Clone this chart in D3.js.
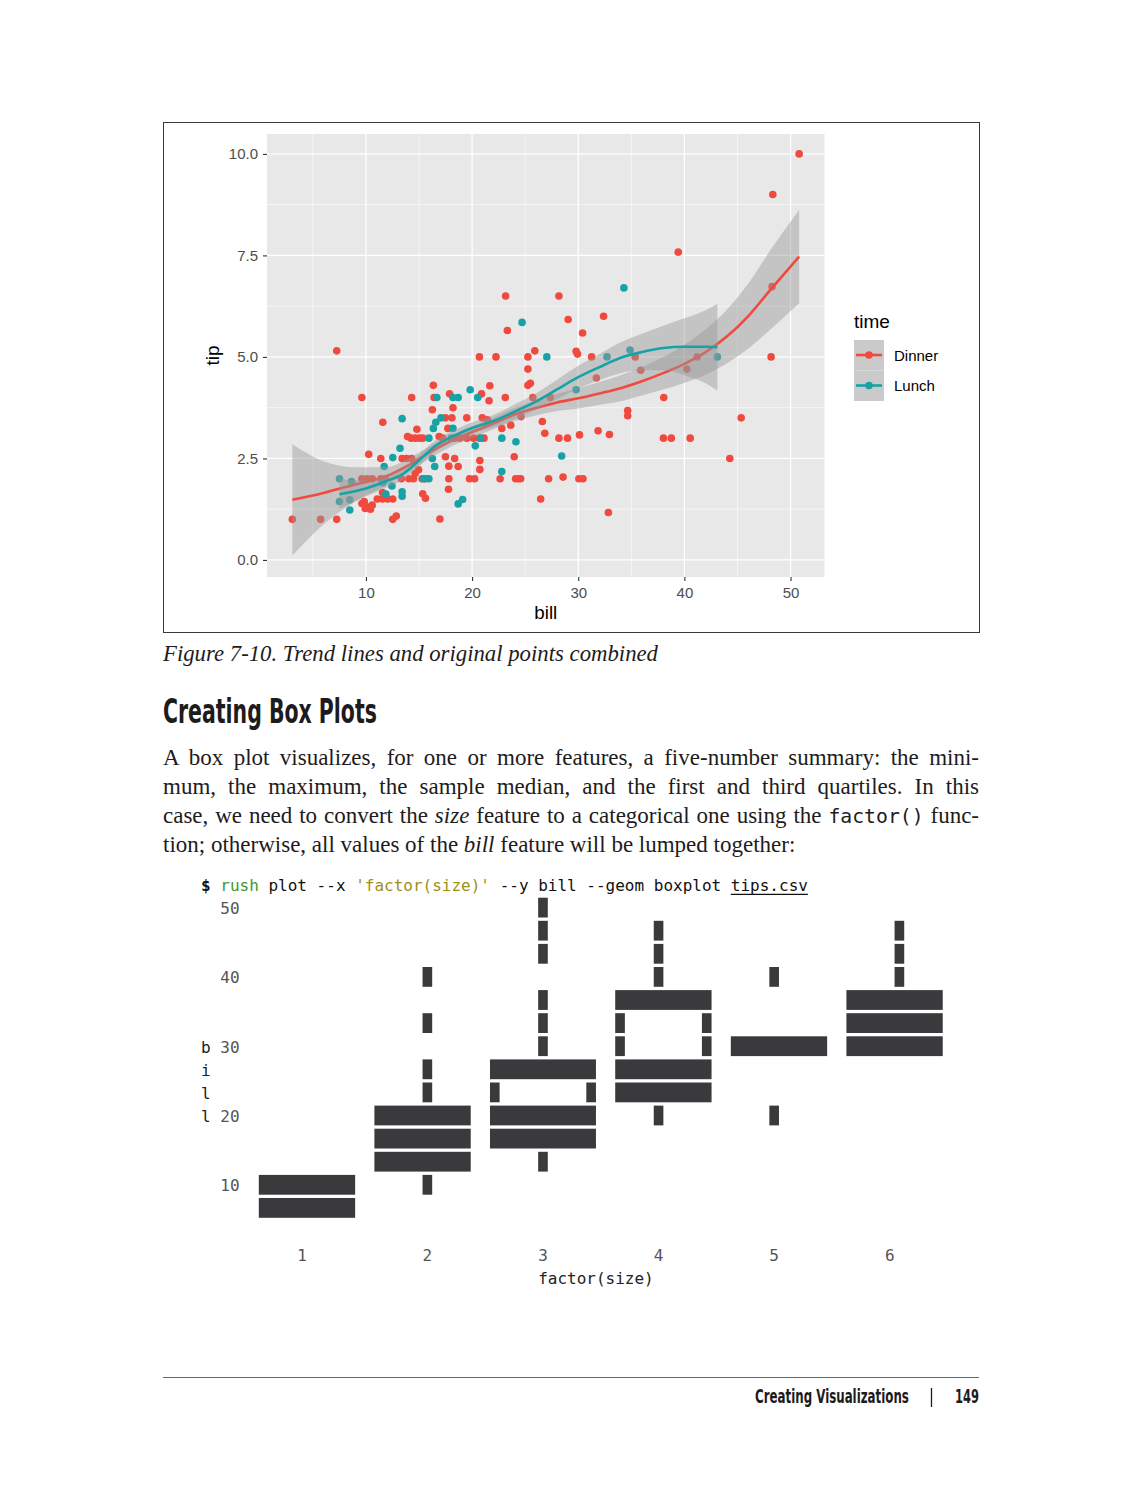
<!DOCTYPE html>
<html><head><meta charset="utf-8">
<script src="https://cdn.jsdelivr.net/npm/d3@7"></script>
<style>
body{margin:0;background:#fff;}
#page{position:relative;width:1142px;height:1500px;overflow:hidden;background:#fff;}
#page svg{position:absolute;left:0;top:0;}
#para{position:absolute;left:163px;top:743px;width:816px;font-family:"Liberation Serif","Times New Roman",serif;font-size:21px;line-height:29px;color:#1e1b1c;}
#para .ln{display:block;text-align:left;}
#para.just .ln.j{text-align:justify;text-align-last:justify;}
#para code{font-family:"DejaVu Sans Mono",monospace;font-size:0.86em;line-height:1;}
</style>
</head><body>
<div id="page">
<div id="para">
<div class="ln j"><span>A box plot visualizes, for one or more features, a five-number summary: the mini-</span></div>
<div class="ln j"><span>mum, the maximum, the sample median, and the first and third quartiles. In this</span></div>
<div class="ln j"><span>case, we need to convert the <i>size</i> feature to a categorical one using the <code>factor()</code> func-</span></div>
<div class="ln"><span id="lastspan">tion; otherwise, all values of the <i>bill</i> feature will be lumped together:</span></div>
</div>
</div>
<script>
// ---------------- DATA ----------------
// Scatter: [bill, tip]
const dinnerPoints = [
[50.81,10.0],[48.33,9.0],[39.42,7.58],[23.16,6.5],[28.18,6.5],[29.05,5.92],[32.39,6.0],[23.32,5.65],[30.41,5.59],[7.25,5.15],
[20.69,5.0],[22.25,5.0],[25.26,5.0],[25.91,5.15],[25.26,4.7],[29.8,5.14],[29.93,5.07],[31.26,5.0],[35.37,5.0],[35.89,4.67],
[31.71,4.48],[40.23,4.7],[41.2,5.0],[48.17,5.0],[48.26,6.73],[38.06,4.0],[45.35,3.5],[44.28,2.5],[34.66,3.68],[34.66,3.55],
[38.03,3.0],[38.77,3.0],[40.55,3.0],[32.84,1.17],[31.87,3.18],[32.94,3.09],[30.12,3.08],[28.18,3.0],[28.99,3.0],[26.85,3.12],
[26.62,3.41],[27.21,2.0],[28.57,2.04],[30.06,2.0],[30.45,2.0],[26.46,1.5],[25.72,4.0],[27.37,4.0],[25.26,4.3],[25.49,4.35],
[24.61,3.53],[23.13,4.0],[21.6,3.92],[21.67,4.29],[20.89,4.09],[22.8,3.24],[23.64,3.32],[23.97,2.54],[22.64,2.0],[24.1,2.0],
[24.36,2.0],[24.58,2.0],[19.76,2.0],[20.24,2.0],[19.5,3.5],[20.96,3.5],[21.44,3.45],[20.7,3.0],[21.12,3.0],[17.88,4.09],
[16.35,4.3],[16.42,4.0],[16.26,3.7],[18.2,3.75],[14.31,4.0],[9.62,4.0],[11.59,3.39],[17.49,3.5],[18.1,3.5],[17.72,3.24],
[14.8,3.22],[13.92,3.04],[14.25,3.0],[14.64,3.0],[15.03,3.0],[15.35,3.0],[16.9,3.04],[17.23,3.0],[18.36,3.0],[18.85,3.0],
[19.5,3.0],[20.14,3.0],[10.26,2.6],[11.4,2.5],[13.41,2.5],[13.83,2.5],[14.31,2.5],[17.49,2.54],[18.36,2.5],[18.69,2.3],
[17.81,2.31],[20.73,2.45],[20.73,2.23],[14.64,2.13],[14.96,2.22],[15.29,2.0],[15.61,2.0],[17.81,2.0],[17.78,1.74],[13.34,2.0],
[14.05,2.0],[14.48,2.0],[9.62,2.0],[10.1,2.0],[10.59,2.0],[11.4,2.0],[11.82,2.0],[15.35,1.63],[15.61,1.52],[9.62,1.39],
[10.1,1.31],[10.43,1.25],[9.94,1.27],[10.59,1.35],[11.07,1.5],[11.56,1.5],[12.05,1.5],[12.53,1.5],[11.56,1.66],[9.84,1.44],
[3.07,1.0],[5.73,1.0],[7.25,1.0],[12.53,1.0],[12.86,1.08],[16.97,1.01]
];
const lunchPoints = [
[34.3,6.7],[24.71,5.85],[27.04,5.0],[32.71,5.0],[34.88,5.17],[43.11,5.0],[29.8,4.19],[28.44,2.56],[24.13,2.91],[22.8,3.0],
[22.8,2.18],[20.3,2.81],[19.82,4.19],[20.53,4.0],[18.2,4.0],[18.69,4.0],[16.68,4.0],[13.41,3.48],[16.58,3.39],[17.07,3.5],
[18.2,3.24],[16.35,3.24],[15.93,3.0],[18.04,3.0],[20.8,3.0],[13.21,2.75],[12.53,2.52],[11.72,2.3],[16.26,2.5],[16.48,2.3],
[15.45,2.0],[15.93,2.0],[7.51,2.0],[8.64,1.93],[12.45,1.82],[11.6,1.9],[11.88,1.62],[13.41,1.68],[13.41,1.57],[18.69,1.38],
[19.11,1.49],[7.51,1.44],[8.48,1.48],[8.48,1.23]
];
// Smooth fits: [bill, fit, halfWidthOfBand]
const dinnerFit = [
[3.07,1.48,1.37],[6,1.65,0.78],[9,1.86,0.42],[12,2.07,0.22],[14,2.33,0.17],[16,2.65,0.15],[18,2.93,0.14],[20,3.15,0.14],
[22,3.36,0.14],[24,3.58,0.16],[26,3.74,0.18],[28,3.88,0.21],[30,3.98,0.25],[32,4.1,0.28],[34,4.23,0.32],[36,4.4,0.35],
[38,4.6,0.4],[40,4.83,0.47],[42,5.12,0.56],[44,5.5,0.66],[46,6.0,0.8],[48,6.62,0.97],[50.81,7.47,1.15]
];
const lunchFit = [
[7.51,1.62,0.36],[10,1.76,0.2],[12,1.95,0.16],[13.5,2.12,0.15],[15,2.45,0.14],[16.5,2.8,0.14],[18.5,3.08,0.14],[20,3.25,0.14],
[22,3.42,0.15],[24,3.65,0.18],[26,3.9,0.2],[28,4.2,0.24],[30,4.5,0.28],[32,4.75,0.32],[34,4.98,0.38],[36,5.12,0.45],
[38,5.22,0.55],[40,5.25,0.7],[42,5.25,0.9],[43.11,5.24,1.07]
];
const timeGroups = ["Dinner","Lunch"];
const xTicks = [10,20,30,40,50];
const xMinor = [5,15,25,35,45];
const yTicks = [0,2.5,5,7.5,10];
const yMinor = [1.25,3.75,6.25,8.75];

// Terminal box plot (bill values at character rows)
const boxSizes = ["1","2","3","4","5","6"];
const boxFull = [[10,6.67],[20,16.67,13.33],[26.67,20,16.67],[36.67,26.67,23.33],[30],[36.67,33.33,30]];
const boxSides = [[],[],[23.33],[33.33,30],[],[]];
const whiskerCells = [[],[40,33.33,26.67,23.33,10],[50,46.67,43.33,36.67,33.33,30,13.33],[46.67,43.33,40,20],[40,20],[46.67,43.33,40]];
const termYTicks = [50,40,30,20,10];

// ---------------- DRAW ----------------
const colors = {Dinner:"#F04A3F", Lunch:"#17A2A6"};
const svg = d3.select("#page").insert("svg","#para").attr("width",1142).attr("height",1500);
const sans = "'Liberation Sans', Arial, Helvetica, sans-serif";

// fit a text's font size so its natural width matches the target, then pin the width
function fitText(sel, target){
  const n = sel.node();
  const fs = parseFloat(sel.style("font-size"));
  const w = n.getComputedTextLength();
  if (w > 0) {
    const k = Math.max(0.8, Math.min(1.2, target / w));
    sel.style("font-size", (fs * k) + "px");
  }
  sel.attr("textLength", target).attr("lengthAdjust", "spacingAndGlyphs");
}
// keep the font size, squeeze horizontally with a transform so the width matches the target
function squeezeText(sel, px, py, target){
  sel.attr("x",0).attr("y",0);
  const w = sel.node().getComputedTextLength();
  const sx = w > 0 ? target / w : 1;
  sel.attr("transform", `translate(${px},${py}) scale(${sx},1)`);
}

// figure frame
svg.append("rect").attr("x",163.5).attr("y",122.5).attr("width",816).attr("height",510)
  .attr("fill","#fff").attr("stroke","#3a3a3a").attr("stroke-width",1);

const P = {l:267, r:824.5, t:134, b:577};
const x = d3.scaleLinear().domain([0.68,53.2]).range([P.l,P.r]);
const y = d3.scaleLinear().domain([-0.42,10.49]).range([P.b,P.t]);

const g = svg.append("g");
g.append("rect").attr("x",P.l).attr("y",P.t).attr("width",P.r-P.l).attr("height",P.b-P.t).attr("fill","#E8E8E8");
g.selectAll(".vmin").data(xMinor).join("line").attr("x1",d=>x(d)).attr("x2",d=>x(d)).attr("y1",P.t).attr("y2",P.b)
  .attr("stroke","#fff").attr("stroke-width",0.6);
g.selectAll(".hmin").data(yMinor).join("line").attr("y1",d=>y(d)).attr("y2",d=>y(d)).attr("x1",P.l).attr("x2",P.r)
  .attr("stroke","#fff").attr("stroke-width",0.6);
g.selectAll(".vmaj").data(xTicks).join("line").attr("x1",d=>x(d)).attr("x2",d=>x(d)).attr("y1",P.t).attr("y2",P.b)
  .attr("stroke","#fff").attr("stroke-width",1.3);
g.selectAll(".hmaj").data(yTicks).join("line").attr("y1",d=>y(d)).attr("y2",d=>y(d)).attr("x1",P.l).attr("x2",P.r)
  .attr("stroke","#fff").attr("stroke-width",1.3);

// points
const pts = [].concat(dinnerPoints.map(d=>({b:d[0],t:d[1],k:"Dinner"})), lunchPoints.map(d=>({b:d[0],t:d[1],k:"Lunch"})));
g.selectAll(".pt").data(pts).join("circle").attr("cx",d=>x(d.b)).attr("cy",d=>y(d.t)).attr("r",3.8)
  .attr("fill",d=>colors[d.k]);

// smooths
const area = d3.area().x(d=>x(d[0])).y0(d=>y(d[1]-d[2])).y1(d=>y(d[1]+d[2])).curve(d3.curveMonotoneX);
const line = d3.line().x(d=>x(d[0])).y(d=>y(d[1])).curve(d3.curveMonotoneX);
[["Dinner",dinnerFit],["Lunch",lunchFit]].forEach(([k,fit])=>{
  g.append("path").attr("d",area(fit)).attr("fill","#999").attr("fill-opacity",0.45);
  g.append("path").attr("d",line(fit)).attr("fill","none").attr("stroke",colors[k]).attr("stroke-width",2.6);
});

// axes
const ax = svg.append("g").attr("transform",`translate(0,${P.b})`)
  .call(d3.axisBottom(x).tickValues(xTicks).tickSize(4).tickPadding(6).tickFormat(d3.format("d")));
const ay = svg.append("g").attr("transform",`translate(${P.l},0)`)
  .call(d3.axisLeft(y).tickValues(yTicks).tickSize(4).tickPadding(5).tickFormat(d3.format(".1f")));
[ax,ay].forEach(a=>{
  a.select(".domain").remove();
  a.selectAll(".tick line").attr("stroke","#333").attr("stroke-width",1.1);
  a.selectAll(".tick text").attr("fill","#4d4d4d").style("font-family",sans).style("font-size","15px");
});
svg.append("text").attr("x",(P.l+P.r)/2).attr("y",619).attr("text-anchor","middle")
  .style("font-family",sans).style("font-size","18.8px").attr("fill","#000").text("bill");
svg.append("text").attr("transform",`translate(219,${(P.t+P.b)/2}) rotate(-90)`).attr("text-anchor","middle")
  .style("font-family",sans).style("font-size","18.8px").attr("fill","#000").text("tip");

// legend
const lg = svg.append("g");
lg.append("text").attr("x",854).attr("y",327.5).style("font-family",sans).style("font-size","19px").attr("fill","#000").text("time");
timeGroups.forEach((k,i)=>{
  const ky = 340 + i*30.5;
  lg.append("rect").attr("x",854).attr("y",ky).attr("width",30).attr("height",30.5).attr("fill","#F2F2F2");
  lg.append("rect").attr("x",854).attr("y",ky).attr("width",30).attr("height",30.5).attr("fill","#999").attr("fill-opacity",0.45);
  lg.append("line").attr("x1",856).attr("x2",882).attr("y1",ky+15).attr("y2",ky+15).attr("stroke",colors[k]).attr("stroke-width",2.6);
  lg.append("circle").attr("cx",869).attr("cy",ky+15).attr("r",3.8).attr("fill",colors[k]);
  lg.append("text").attr("x",894).attr("y",ky+20.5).style("font-family",sans).style("font-size","15px").attr("fill","#000").text(k);
});

// caption
fitText(svg.append("text").attr("x",163).attr("y",661)
  .style("font-family","'Liberation Serif','Times New Roman',serif").style("font-style","italic").style("font-size","23px")
  .attr("fill","#1e1b1c").text("Figure 7-10. Trend lines and original points combined"), 495);

// heading
const cond = "'Liberation Sans Narrow','DejaVu Sans Condensed','Liberation Sans',sans-serif";
squeezeText(svg.append("text")
  .style("font-family",cond).style("font-weight","bold").style("font-size","33px")
  .attr("fill","#1e1b1c").text("Creating Box Plots"), 163, 723, 214);

// terminal
const mono = "'DejaVu Sans Mono', monospace";
const cw = 9.633, x0 = 201, rowH = 23.1, row0 = 908;
const colX = c => x0 + c*cw;
const code = svg.append("text").attr("x",x0).attr("y",row0 - rowH + 6).style("font-family",mono).style("font-size","16px").attr("fill","#111");
code.append("tspan").style("font-weight","bold").text("$");
code.append("tspan").text(" ");
code.append("tspan").attr("fill","#3f9a2e").text("rush");
code.append("tspan").text(" plot --x ");
code.append("tspan").attr("fill","#a0901a").text("'factor(size)'");
code.append("tspan").text(" --y bill --geom boxplot ");
code.append("tspan").text("tips.csv");
svg.append("line").attr("x1",colX(55)).attr("x2",colX(63)).attr("y1",row0-rowH+9.5).attr("y2",row0-rowH+9.5).attr("stroke","#111").attr("stroke-width",1.2);

const yb = d3.scaleLinear().domain([10,50]).range([row0 + 12*rowH, row0]);
const rowY = v => row0 + Math.round((yb(v)-row0)/rowH)*rowH;
const xb = d3.scaleBand().domain(boxSizes).range([6.02, 6.02 + 6*12.17]);
const boxW = 10.3;
const tg = svg.append("g").attr("fill","#3a3a3c");
const cellH = 19.8, cellOff = 10.3;
boxSizes.forEach((s,i)=>{
  const c0 = Math.round(xb(s)), c1 = Math.round(xb(s)+boxW), cw0 = Math.floor(xb(s)+boxW/2);
  tg.selectAll(null).data(boxFull[i]).join("rect").attr("x",colX(c0)).attr("width",colX(c1)-colX(c0))
    .attr("y",v=>rowY(v)-cellOff).attr("height",cellH);
  boxSides[i].forEach(v=>{
    [c0,c1-1].forEach(c=>tg.append("rect").attr("x",colX(c)).attr("width",cw).attr("y",rowY(v)-cellOff).attr("height",cellH));
  });
  tg.selectAll(null).data(whiskerCells[i]).join("rect").attr("x",colX(cw0)).attr("width",cw)
    .attr("y",v=>rowY(v)-cellOff).attr("height",cellH);
  const lc = Math.floor(xb(s)+boxW/2-0.2);
  svg.append("text").attr("x",colX(lc)).attr("y",row0+15*rowH+6)
    .style("font-family",mono).style("font-size","16px").attr("fill","#555").text(s);
});
svg.selectAll(".tyl").data(termYTicks).join("text").attr("x",colX(2)).attr("y",v=>rowY(v)+6)
  .style("font-family",mono).style("font-size","16px").attr("fill","#555").text(d=>d);
const yTitle = "bill";
yTitle.split("").forEach((ch,i)=>{
  svg.append("text").attr("x",colX(0)).attr("y",rowY(30)+i*rowH+6).style("font-family",mono).style("font-size","16px").attr("fill","#222").text(ch);
});
svg.append("text").attr("x",colX(35)).attr("y",row0+16*rowH+6).style("font-family",mono).style("font-size","16px").attr("fill","#222").text("factor(size)");

// footer
svg.append("line").attr("x1",163).attr("x2",979).attr("y1",1377.5).attr("y2",1377.5).attr("stroke","#666").attr("stroke-width",1);
squeezeText(svg.append("text")
  .style("font-family",cond).style("font-weight","bold").style("font-size","19px").attr("fill","#1e1b1c").text("Creating Visualizations"), 755, 1403, 154);
svg.append("line").attr("x1",931.5).attr("x2",931.5).attr("y1",1388).attr("y2",1407).attr("stroke","#1e1b1c").attr("stroke-width",1.3);
squeezeText(svg.append("text")
  .style("font-family",cond).style("font-weight","bold").style("font-size","19px").attr("fill","#1e1b1c").text("149"), 955, 1403, 24);

// paragraph sizing
(function(){
  const para = document.getElementById("para");
  let f = 21;
  para.style.fontSize = f+"px";
  const spans = para.querySelectorAll(".ln span");
  const lastW = document.getElementById("lastspan").getBoundingClientRect().width;
  let nf = f*643/lastW;
  spans.forEach((sp,i)=>{ if(i<3){ const w = sp.getBoundingClientRect().width; nf = Math.min(nf, f*812/w); } });
  nf = Math.max(18, Math.min(23, nf));
  para.style.fontSize = nf+"px";
  para.style.top = (765 - ((29 - 1.107*nf)/2 + 0.891*nf))+"px";
  para.classList.add("just");
})();
</script>
</body></html>
